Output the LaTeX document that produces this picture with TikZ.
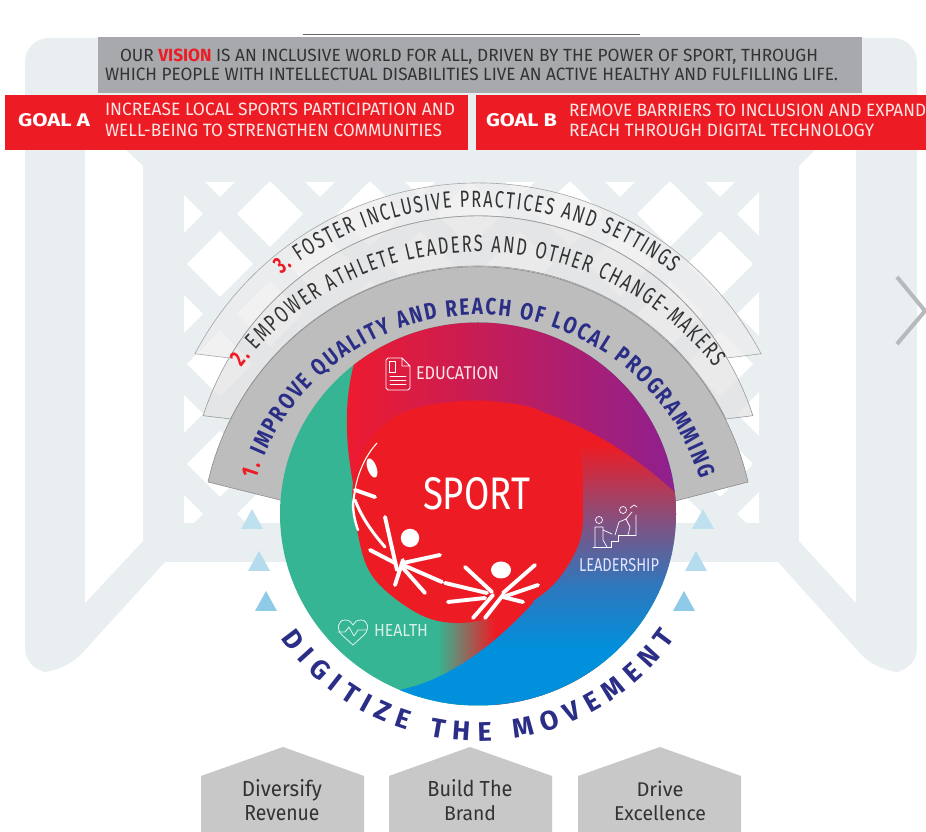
\documentclass[tikz,border=0pt]{standalone}
\usepackage{graphicx}
\usepackage{fontspec}
\setmainfont{Fira Sans}
\newfontfamily\rf[FakeStretch=0.8]{Fira Sans}
\newfontfamily\rfn[FakeStretch=0.7]{Fira Sans}
\usetikzlibrary{decorations.text}
\definecolor{frame}{HTML}{E9EEF1}
\definecolor{barg}{HTML}{A7A9AC}
\definecolor{sred}{HTML}{ED1C24}
\definecolor{tx}{HTML}{333333}
\definecolor{pinkw}{HTML}{FDE6E6}
\definecolor{navy}{HTML}{2B2E86}
\definecolor{sgreen}{HTML}{35B593}
\definecolor{sblue}{HTML}{0090DC}
\definecolor{spurple}{HTML}{8A2093}
\definecolor{house}{HTML}{C8C8C8}
\definecolor{t1}{HTML}{BFE0EF}
\definecolor{t2}{HTML}{B5DCEE}
\definecolor{t3}{HTML}{8FCBE8}
\definecolor{midr}{HTML}{85507F}
\definecolor{midb}{HTML}{2F77BD}
\newcommand\fitb[3]{\resizebox{#1pt}{#2pt}{#3}}
\newcommand\ringA{\fontsize{23.5pt}{23.5pt}\selectfont\rf\bfseries}
\newcommand\ringB{\fontsize{23.5pt}{23.5pt}\selectfont\rfn}
\newcommand\ringC{\fontsize{23.5pt}{23.5pt}\selectfont\rfn}
\newcommand\digi{\fontsize{27pt}{27pt}\selectfont\bfseries}
\tikzset{
  lbl/.style={inner sep=0pt,outer sep=0pt,anchor=base west},
  lblc/.style={inner sep=0pt,outer sep=0pt,anchor=base},
  limb/.style={draw=white,line width=3.9pt,line cap=round},
  ico/.style={draw=white,line width=0.8pt,line cap=round,line join=round},
  ringthree/.style={fill=white!92!black,fill opacity=.65,draw=black!35,line width=.6pt},
  ringtwo/.style={fill=black!11,fill opacity=.75,draw=black!40,line width=.6pt},
  ringone/.style={fill=black!26,draw=black!45,line width=.6pt},
  housebox/.style={fill=house,draw=none},
}
\begin{document}
\begin{tikzpicture}[x=1pt,y=-1pt,shift={(0pt,832pt)}]
\useasboundingbox (0,0) rectangle (926,832);
\fill[white] (0,0) rectangle (926,832);
% goal frame
\fill[frame,rounded corners=24pt] (25,38) -- (917,38) -- (917,672) -- (877,672) [sharp corners] -- (778,562) -- (165,562) [rounded corners=24pt] -- (65,672) -- (25,672) -- cycle;
\fill[white] (85,150) -- (126,150) -- (143,166) -- (143,541) -- (85,603) -- cycle;
\fill[white] (856,150) -- (815,150) -- (799,166) -- (799,541) -- (856,603) -- cycle;
\begin{scope}
  \clip (184,183) rectangle (759,523);
  \foreach \i in {0,...,12}{
    \foreach \j in {-1,...,6}{
      \pgfmathparse{int(mod(\i+\j+12,2))}
      \ifnum\pgfmathresult=1\relax\else
      \fill[white] ({170+50*\i-33},{214+50*\j}) -- ({170+50*\i},{214+50*\j-33}) -- ({170+50*\i+33},{214+50*\j}) -- ({170+50*\i},{214+50*\j+33}) -- cycle;
      \fi
    }
  }
\end{scope}
% chevron
\draw[draw=black!22!frame,line width=4pt] (897,277) -- (925,311) -- (897,344);
% top bars
\draw[black!60,line width=1.2pt] (303,34.5) -- (640,34.5);
\fill[barg] (98,37) rectangle (862,93);
\fill[sred] (5,95) rectangle (468,150);
\fill[sred] (476,95) rectangle (926,150);
\node[lbl] (v1) at (120,62) {\fitb{698}{12.5}{\color{tx}OUR \textcolor{sred}{\bfseries VISION} IS AN INCLUSIVE WORLD FOR ALL, DRIVEN BY THE POWER OF SPORT, THROUGH}};
\node[lbl] (v2) at (105,81) {\fitb{733}{12.5}{\color{tx}WHICH PEOPLE WITH INTELLECTUAL DISABILITIES LIVE AN ACTIVE HEALTHY AND FULFILLING LIFE.}};
\node[lbl] (ga) at (18,127) {\fitb{72}{13}{\color{white}\bfseries GOAL A}};
\node[lbl] (ga1) at (105,116) {\fitb{350}{12.5}{\color{pinkw}INCREASE LOCAL SPORTS PARTICIPATION AND}};
\node[lbl] (ga2) at (105,137) {\fitb{337}{12.5}{\color{pinkw}WELL-BEING TO STRENGTHEN COMMUNITIES}};
\node[lbl] (gb) at (486,127) {\fitb{71}{13}{\color{white}\bfseries GOAL B}};
\node[lbl] (gb1) at (569,117) {\fitb{357}{12.5}{\color{pinkw}REMOVE BARRIERS TO INCLUSION AND EXPAND}};
\node[lbl] (gb2) at (569,137) {\fitb{305}{12.5}{\color{pinkw}REACH THROUGH DIGITAL TECHNOLOGY}};
% blue triangles
\fill[t1] (241,529) -- (252,509) -- (263,529) -- cycle;
\fill[t2] (248,571) -- (259,551) -- (270,571) -- cycle;
\fill[t3] (255,611) -- (266,591) -- (277,611) -- cycle;
\fill[t1] (692,529) -- (703,509) -- (714,529) -- cycle;
\fill[t2] (685,571) -- (696,551) -- (707,571) -- cycle;
\fill[t3] (673,611) -- (684,591) -- (695,611) -- cycle;
% rings
\path[ringthree] (478,503) ++(207.8:320) arc[start angle=207.8,end angle=332.2,radius=320] -- (727,358) arc[start angle=329.45,end angle=210.55,radius=289] -- cycle;
\path[ringtwo] (478,505) ++(198:289) arc[start angle=198,end angle=342,radius=289] -- (726,419) arc[start angle=333.4,end angle=206.6,radius=277] -- cycle;
\path[ringone] (300,505) -- (208,482) arc[start angle=192.9,end angle=347.1,radius=277] -- (660,505) -- cycle;
% ring text
\path[decorate,decoration={text along path,text align={fit to path},
  text={|\ringB\color{sred}\bfseries|3. |||\ringB\color{tx}|FOSTER INCLUSIVE PRACTICES AND SETTINGS||}}]
  (478,526) ++(232:319) arc[start angle=232,end angle=307.5,radius=319];
\path[decorate,decoration={text along path,text align={fit to path},
  text={|\ringC\color{sred}\bfseries|2. |||\ringC\color{tx}|EMPOWER ATHLETE LEADERS AND OTHER CHANGE-MAKERS||}}]
  (478,552) ++(218:300) arc[start angle=218,end angle=322,radius=300];
\path[decorate,decoration={text along path,text align={fit to path},
  text={|\ringA\color{sred}|1. |||\ringA\color{navy}|IMPROVE QUALITY AND REACH OF LOCAL PROGRAMMING||}}]
  (478,547) ++(197:232) arc[start angle=197,end angle=343,radius=232];
% main circle
\begin{scope}
  \clip (478,514) ellipse[x radius=198,y radius=191.5];
  \fill[sgreen] (270,300) rectangle (690,720);
  \path[left color=sred!95!magenta,right color=spurple] (360,345) .. controls (345,385) and (343,430) .. (353,483) -- (400,520) -- (690,520) -- (690,300) -- (360,300) -- cycle;
  % green to red below the blob
  \path[left color=sgreen,right color=sred] (438,600) rectangle (495,705);
  \fill[sred] (494.5,600) rectangle (600,705);
  % right region
  \begin{scope}
    \clip (392,691) .. controls (440,685) and (490,650) .. (533,603) -- (560,450) -- (545,413) .. controls (590,428) and (635,455) .. (680,497) -- (700,500) -- (700,720) -- (392,720) -- cycle;
    \fill[sred] (380,380) rectangle (700,445.5);
    \path[top color=sred,bottom color=midr] (380,445) rectangle (700,520.5);
    \path[top color=midr,bottom color=midb] (380,520) rectangle (700,585.5);
    \path[top color=midb,bottom color=sblue] (380,585) rectangle (700,650.5);
    \fill[sblue] (380,650) rectangle (700,720);
  \end{scope}
  % sport blob
  \fill[sred] plot[smooth cycle,tension=.6] coordinates {(353,483) (357,530) (373,577) (417,613) (457,623) (503,615) (533,601) (560,577) (580,540) (583,500) (578,445) (545,413) (500,402) (450,402) (400,414) (368,443)};
\end{scope}
% digitize
\path[decorate,decoration={text along path,text align={fit to path},
  text={|\digi\color{navy}|DIGITIZE THE MOVEMENT||}}]
  (478,500) ++(145:241) arc[start angle=145,end angle=35,radius=241];
% figures
\draw[draw=white,line width=1.1pt] (377,443) .. controls (366,455) and (358,472) .. (355,490);
\fill[white,rotate around={20:(372,468)}] (372,468) ellipse[x radius=4.5,y radius=10];
\draw[limb] (355,490) -- (375,497);
\draw[limb,line width=2.4pt] (353,503) .. controls (353,512) and (355,522) .. (358,530);
\draw[limb,line width=3pt] (355,500) .. controls (362,518) and (372,532) .. (385,547);
\draw[limb,line width=2pt] (355,490) -- (353,503);
\fill[white] (410,538) circle[radius=9.2];
\draw[limb] (385,517) -- (397,570);
\draw[limb] (370,550) -- (395,563);
\draw[limb] (395,585) -- (403,560);
\draw[limb] (403,563) -- (440,555);
\draw[limb] (403,565) -- (442,582);
\draw[limb] (403,568) -- (425,593);
\fill[white] (501,570) ellipse[x radius=10,y radius=8.5];
\draw[limb] (465,567) -- (492,592);
\draw[limb] (445,583) -- (487,593);
\draw[limb] (448,602) -- (485,598);
\draw[limb] (473,618) -- (493,595);
\draw[limb] (485,618) -- (503,595);
\draw[limb] (535,565) -- (503,593);
\draw[limb] (538,585) -- (503,597);
\draw[limb] (523,602) -- (503,597);
\node[lbl] (sport) at (423,510) {\fitb{107}{32}{\color{white}SPORT}};
% education icon
\draw[ico] (402,358) -- (388,358) -- (386,360) -- (386,388) -- (388,390) -- (408,390) -- (410,388) -- (410,366) -- (402,358) -- (402,366) -- (410,366);
\draw[ico,line width=.6pt] (389,361) rectangle (395,372);
\draw[ico,line width=.6pt] (390,376) -- (406,376) (390,380) -- (406,380) (390,384) -- (406,384);
\node[lbl] (edu) at (416,380) {\fitb{83}{13}{\color{white!90!red}EDUCATION}};
% health icon
\draw[ico,draw=white!85!sgreen] (353,645) -- (342,635) .. controls (336,629) and (338,620) .. (345,620) .. controls (349,620) and (352,622) .. (353,625) .. controls (354,622) and (357,620) .. (361,620) .. controls (368,620) and (370,629) .. (364,635) -- (353,645);
\draw[ico,draw=white!85!sgreen] (338,632) -- (345,632) -- (349,627) -- (354,636) -- (358,630) -- (367,630);
\node[lbl] (health) at (374,637) {\fitb{54}{12}{\color{white!80!sgreen}HEALTH}};
% leadership icon
\draw[ico,line width=.7pt] (599,520) circle[radius=3.5] (623,510) circle[radius=3.5];
\draw[ico,line width=.7pt] (593,547) -- (611,547) -- (611,541) -- (618,541) -- (618,535) -- (636,535);
\draw[ico,line width=.7pt] (636,535) -- (636,515) (630,508) -- (634,505) -- (637,507);
\draw[ico,line width=.7pt] (595,547) -- (595,527) -- (603,527) -- (603,540) -- (607,547);
\draw[ico,line width=.7pt] (603,530) -- (612,534) (615,535) -- (619,522) -- (626,519) -- (630,527) -- (628,535) (626,519) -- (632,512);
\node[lbl] (lead) at (579,572) {\fitb{80}{13}{\color{white!90!blue}LEADERSHIP}};
% houses
\fill[housebox] (201,776) -- (283,747) -- (364,776) -- (364,832) -- (201,832) -- cycle;
\fill[housebox] (389,776) -- (470,747) -- (552,776) -- (552,832) -- (389,832) -- cycle;
\fill[housebox] (578,776) -- (660,747) -- (741,776) -- (741,832) -- (578,832) -- cycle;
\node[lblc] (h1a) at (282,797) {\fitb{80}{17}{\color{tx}Diversify}};
\node[lblc] (h1b) at (282,821) {\fitb{75}{15}{\color{tx}Revenue}};
\node[lblc] (h2a) at (470,797) {\fitb{85}{17}{\color{tx}Build The}};
\node[lblc] (h2b) at (470,821) {\fitb{52}{15}{\color{tx}Brand}};
\node[lblc] (h3a) at (660,797) {\fitb{47}{15.5}{\color{tx}Drive}};
\node[lblc] (h3b) at (660,821) {\fitb{92}{15}{\color{tx}Excellence}};
\end{tikzpicture}
\end{document}
